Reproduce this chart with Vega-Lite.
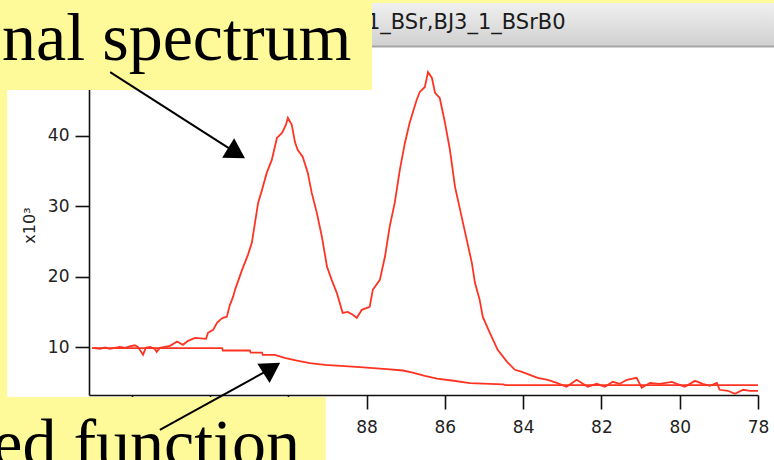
{
  "$schema": "https://vega.github.io/schema/vega-lite/v6.json",
  "width": 669,
  "height": 340,
  "autosize": {"type": "none"},
  "padding": {"left": 89, "top": 55, "right": 16, "bottom": 65},
  "background": "#ffffff",
  "config": {"view": {"stroke": null}},
  "datasets": {
    "curves": [
      {"series": "spectrum", "x": 95.01, "y": 9.90},
      {"series": "spectrum", "x": 94.81, "y": 9.76},
      {"series": "spectrum", "x": 94.68, "y": 9.97},
      {"series": "spectrum", "x": 94.56, "y": 9.76},
      {"series": "spectrum", "x": 94.43, "y": 9.90},
      {"series": "spectrum", "x": 94.30, "y": 10.04},
      {"series": "spectrum", "x": 94.17, "y": 9.90},
      {"series": "spectrum", "x": 94.05, "y": 10.11},
      {"series": "spectrum", "x": 93.92, "y": 10.26},
      {"series": "spectrum", "x": 93.84, "y": 10.04},
      {"series": "spectrum", "x": 93.71, "y": 8.91},
      {"series": "spectrum", "x": 93.64, "y": 9.90},
      {"series": "spectrum", "x": 93.53, "y": 10.04},
      {"series": "spectrum", "x": 93.41, "y": 9.76},
      {"series": "spectrum", "x": 93.36, "y": 9.33},
      {"series": "spectrum", "x": 93.28, "y": 9.90},
      {"series": "spectrum", "x": 93.15, "y": 10.04},
      {"series": "spectrum", "x": 93.02, "y": 10.18},
      {"series": "spectrum", "x": 92.84, "y": 10.80},
      {"series": "spectrum", "x": 92.69, "y": 10.33},
      {"series": "spectrum", "x": 92.56, "y": 10.89},
      {"series": "spectrum", "x": 92.38, "y": 11.32},
      {"series": "spectrum", "x": 92.10, "y": 11.18},
      {"series": "spectrum", "x": 92.05, "y": 12.03},
      {"series": "spectrum", "x": 91.92, "y": 12.46},
      {"series": "spectrum", "x": 91.82, "y": 13.45},
      {"series": "spectrum", "x": 91.74, "y": 13.88},
      {"series": "spectrum", "x": 91.67, "y": 14.16},
      {"series": "spectrum", "x": 91.57, "y": 14.30},
      {"series": "spectrum", "x": 91.49, "y": 16.01},
      {"series": "spectrum", "x": 91.41, "y": 17.14},
      {"series": "spectrum", "x": 91.36, "y": 18.14},
      {"series": "spectrum", "x": 91.18, "y": 20.98},
      {"series": "spectrum", "x": 91.03, "y": 23.11},
      {"series": "spectrum", "x": 90.93, "y": 24.81},
      {"series": "spectrum", "x": 90.85, "y": 27.65},
      {"series": "spectrum", "x": 90.77, "y": 30.49},
      {"series": "spectrum", "x": 90.67, "y": 32.34},
      {"series": "spectrum", "x": 90.55, "y": 34.75},
      {"series": "spectrum", "x": 90.42, "y": 36.60},
      {"series": "spectrum", "x": 90.29, "y": 39.72},
      {"series": "spectrum", "x": 90.16, "y": 40.43},
      {"series": "spectrum", "x": 90.06, "y": 41.57},
      {"series": "spectrum", "x": 90.01, "y": 42.56},
      {"series": "spectrum", "x": 89.91, "y": 41.57},
      {"series": "spectrum", "x": 89.83, "y": 39.16},
      {"series": "spectrum", "x": 89.76, "y": 38.03},
      {"series": "spectrum", "x": 89.63, "y": 37.03},
      {"series": "spectrum", "x": 89.50, "y": 34.75},
      {"series": "spectrum", "x": 89.40, "y": 31.91},
      {"series": "spectrum", "x": 89.27, "y": 29.07},
      {"series": "spectrum", "x": 89.14, "y": 25.66},
      {"series": "spectrum", "x": 89.01, "y": 21.40},
      {"series": "spectrum", "x": 88.89, "y": 19.56},
      {"series": "spectrum", "x": 88.76, "y": 17.71},
      {"series": "spectrum", "x": 88.61, "y": 14.87},
      {"series": "spectrum", "x": 88.48, "y": 15.01},
      {"series": "spectrum", "x": 88.35, "y": 14.59},
      {"series": "spectrum", "x": 88.25, "y": 14.16},
      {"series": "spectrum", "x": 88.12, "y": 15.30},
      {"series": "spectrum", "x": 87.92, "y": 15.73},
      {"series": "spectrum", "x": 87.84, "y": 18.14},
      {"series": "spectrum", "x": 87.66, "y": 19.56},
      {"series": "spectrum", "x": 87.53, "y": 22.83},
      {"series": "spectrum", "x": 87.41, "y": 27.09},
      {"series": "spectrum", "x": 87.28, "y": 30.49},
      {"series": "spectrum", "x": 87.15, "y": 35.18},
      {"series": "spectrum", "x": 87.02, "y": 39.01},
      {"series": "spectrum", "x": 86.90, "y": 41.85},
      {"series": "spectrum", "x": 86.72, "y": 45.11},
      {"series": "spectrum", "x": 86.64, "y": 46.25},
      {"series": "spectrum", "x": 86.51, "y": 46.96},
      {"series": "spectrum", "x": 86.43, "y": 49.09},
      {"series": "spectrum", "x": 86.33, "y": 48.24},
      {"series": "spectrum", "x": 86.25, "y": 46.11},
      {"series": "spectrum", "x": 86.13, "y": 45.40},
      {"series": "spectrum", "x": 86.00, "y": 41.99},
      {"series": "spectrum", "x": 85.87, "y": 38.03},
      {"series": "spectrum", "x": 85.74, "y": 32.77},
      {"series": "spectrum", "x": 85.57, "y": 28.51},
      {"series": "spectrum", "x": 85.44, "y": 25.24},
      {"series": "spectrum", "x": 85.31, "y": 21.97},
      {"series": "spectrum", "x": 85.23, "y": 19.13},
      {"series": "spectrum", "x": 85.11, "y": 16.72},
      {"series": "spectrum", "x": 85.03, "y": 14.30},
      {"series": "spectrum", "x": 84.85, "y": 12.03},
      {"series": "spectrum", "x": 84.65, "y": 9.62},
      {"series": "spectrum", "x": 84.41, "y": 7.91},
      {"series": "spectrum", "x": 84.21, "y": 6.78},
      {"series": "spectrum", "x": 84.03, "y": 6.49},
      {"series": "spectrum", "x": 83.83, "y": 6.07},
      {"series": "spectrum", "x": 83.63, "y": 5.64},
      {"series": "spectrum", "x": 83.37, "y": 5.36},
      {"series": "spectrum", "x": 83.14, "y": 4.93},
      {"series": "spectrum", "x": 82.89, "y": 4.36},
      {"series": "spectrum", "x": 82.63, "y": 5.36},
      {"series": "spectrum", "x": 82.35, "y": 4.36},
      {"series": "spectrum", "x": 82.12, "y": 4.79},
      {"series": "spectrum", "x": 81.91, "y": 4.36},
      {"series": "spectrum", "x": 81.71, "y": 5.07},
      {"series": "spectrum", "x": 81.53, "y": 4.79},
      {"series": "spectrum", "x": 81.35, "y": 5.36},
      {"series": "spectrum", "x": 81.10, "y": 5.64},
      {"series": "spectrum", "x": 80.97, "y": 4.22},
      {"series": "spectrum", "x": 80.76, "y": 4.93},
      {"series": "spectrum", "x": 80.51, "y": 4.79},
      {"series": "spectrum", "x": 80.20, "y": 5.07},
      {"series": "spectrum", "x": 79.87, "y": 4.36},
      {"series": "spectrum", "x": 79.61, "y": 5.21},
      {"series": "spectrum", "x": 79.41, "y": 4.79},
      {"series": "spectrum", "x": 79.23, "y": 4.50},
      {"series": "spectrum", "x": 79.05, "y": 4.93},
      {"series": "spectrum", "x": 78.98, "y": 3.94},
      {"series": "spectrum", "x": 78.77, "y": 3.80},
      {"series": "spectrum", "x": 78.59, "y": 3.37},
      {"series": "spectrum", "x": 78.38, "y": 3.94},
      {"series": "spectrum", "x": 78.20, "y": 3.80},
      {"series": "spectrum", "x": 78.00, "y": 3.80},
      {"series": "fit", "x": 95.01, "y": 9.86},
      {"series": "fit", "x": 93.02, "y": 9.86},
      {"series": "fit", "x": 91.69, "y": 9.86},
      {"series": "fit", "x": 91.67, "y": 9.52},
      {"series": "fit", "x": 90.98, "y": 9.52},
      {"series": "fit", "x": 90.96, "y": 9.23},
      {"series": "fit", "x": 90.67, "y": 9.23},
      {"series": "fit", "x": 90.65, "y": 8.91},
      {"series": "fit", "x": 90.34, "y": 8.91},
      {"series": "fit", "x": 90.09, "y": 8.48},
      {"series": "fit", "x": 89.78, "y": 8.10},
      {"series": "fit", "x": 89.45, "y": 7.73},
      {"series": "fit", "x": 89.06, "y": 7.49},
      {"series": "fit", "x": 88.17, "y": 7.16},
      {"series": "fit", "x": 87.48, "y": 6.88},
      {"series": "fit", "x": 87.07, "y": 6.68},
      {"series": "fit", "x": 86.82, "y": 6.39},
      {"series": "fit", "x": 86.51, "y": 5.93},
      {"series": "fit", "x": 86.20, "y": 5.54},
      {"series": "fit", "x": 85.82, "y": 5.26},
      {"series": "fit", "x": 85.36, "y": 4.89},
      {"series": "fit", "x": 84.51, "y": 4.70},
      {"series": "fit", "x": 84.45, "y": 4.60},
      {"series": "fit", "x": 78.00, "y": 4.60}
    ]
  },
  "encoding": {
    "x": {
      "field": "x",
      "type": "quantitative",
      "scale": {"domain": [78, 95.09], "reverse": true, "nice": false, "zero": false},
      "axis": {
        "title": null,
        "values": [78, 80, 82, 84, 86, 88, 90, 92, 94],
        "format": "d",
        "labelExpr": "datum.value > 89 ? '' : datum.label",
        "grid": false,
        "tickSize": 14,
        "tickWidth": 1.6,
        "tickColor": "#111111",
        "domainColor": "#111111",
        "domainWidth": 1.6,
        "labelFont": "DejaVu Sans",
        "labelFontSize": 17,
        "labelColor": "#222222",
        "labelPadding": 10,
        "labelFlush": false,
        "labelOverlap": false
      }
    },
    "y": {
      "field": "y",
      "type": "quantitative",
      "scale": {"domain": [3.2, 51.5], "nice": false, "zero": false},
      "axis": {
        "title": "x10³",
        "values": [10, 20, 30, 40],
        "format": "d",
        "grid": false,
        "tickSize": 14,
        "tickWidth": 1.6,
        "tickColor": "#111111",
        "domainColor": "#111111",
        "domainWidth": 1.6,
        "labelFont": "DejaVu Sans",
        "labelFontSize": 17,
        "labelColor": "#222222",
        "labelPadding": 6,
        "titleFont": "DejaVu Sans",
        "titleFontSize": 16,
        "titleFontWeight": "normal",
        "titleColor": "#222222",
        "titlePadding": 10
      }
    }
  },
  "layer": [
    {
      "data": {"values": [{"x": 87.86, "x2": 76.5, "y": 58.89, "y2": 52.78}]},
      "mark": {
        "type": "rect",
        "clip": false,
        "color": {
          "gradient": "linear", "x1": 0, "y1": 0, "x2": 0, "y2": 1,
          "stops": [{"offset": 0, "color": "#F0F0F0"}, {"offset": 1, "color": "#D0D0D0"}]
        }
      },
      "encoding": {"x2": {"field": "x2"}, "y2": {"field": "y2"}}
    },
    {
      "data": {"values": [{"x": 87.86, "x2": 76.5, "y": 52.71}]},
      "mark": {"type": "rule", "clip": false, "color": "#A5A5A5", "strokeWidth": 2},
      "encoding": {"x2": {"field": "x2"}}
    },
    {
      "data": {"values": [{"x": 87.99, "y": 55.19, "label": "1_BSr,BJ3_1_BSrB0"}]},
      "mark": {"type": "text", "clip": false, "align": "left", "baseline": "alphabetic", "font": "DejaVu Sans", "fontSize": 21, "color": "#1a1a1a"},
      "encoding": {"text": {"field": "label"}}
    },
    {
      "data": {"values": [
        {"x": 97.7, "x2": 87.86, "y": 61, "y2": 46.53},
        {"x": 97.7, "x2": 76.5, "y": 61, "y2": 58.89},
        {"x": 97.7, "x2": 97.18, "y": 61, "y2": 2.91},
        {"x": 97.7, "x2": 89.04, "y": 2.91, "y2": -8}
      ]},
      "mark": {"type": "rect", "clip": false, "color": "#FFFA99"},
      "encoding": {"x2": {"field": "x2"}, "y2": {"field": "y2"}}
    },
    {
      "data": {"name": "curves"},
      "mark": {"type": "line", "color": "#FF3322", "strokeWidth": 1.8},
      "encoding": {"detail": {"field": "series", "type": "nominal"}}
    },
    {
      "data": {"values": [
        {"x": 94.55, "y": 49.08, "x2": 91.32, "y2": 37.56},
        {"x": 93.28, "y": -1.77, "x2": 90.42, "y2": 7.03}
      ]},
      "mark": {"type": "rule", "clip": false, "color": "#000000", "strokeWidth": 2},
      "encoding": {"x2": {"field": "x2"}, "y2": {"field": "y2"}}
    },
    {
      "data": {"values": [{"x": 91.32, "y": 37.56}]},
      "mark": {"type": "point", "clip": false, "shape": "triangle-up", "size": 520, "angle": 121.7, "filled": true, "opacity": 1, "color": "#000000"},
      "encoding": {}
    },
    {
      "data": {"values": [{"x": 90.42, "y": 7.03}]},
      "mark": {"type": "point", "clip": false, "shape": "triangle-up", "size": 520, "angle": 57.5, "filled": true, "opacity": 1, "color": "#000000"},
      "encoding": {}
    },
    {
      "data": {"values": [{"x": 97.31, "y": 50.79, "label": "nal spectrum"}]},
      "mark": {"type": "text", "clip": false, "align": "left", "baseline": "alphabetic", "font": "Liberation Serif", "fontSize": 68, "color": "#000000"},
      "encoding": {"text": {"field": "label"}}
    },
    {
      "data": {"values": [{"x": 89.70, "y": -6.89, "label": "ed function"}]},
      "mark": {"type": "text", "clip": false, "align": "right", "baseline": "alphabetic", "font": "Liberation Serif", "fontSize": 68, "color": "#000000"},
      "encoding": {"text": {"field": "label"}}
    }
  ]
}
